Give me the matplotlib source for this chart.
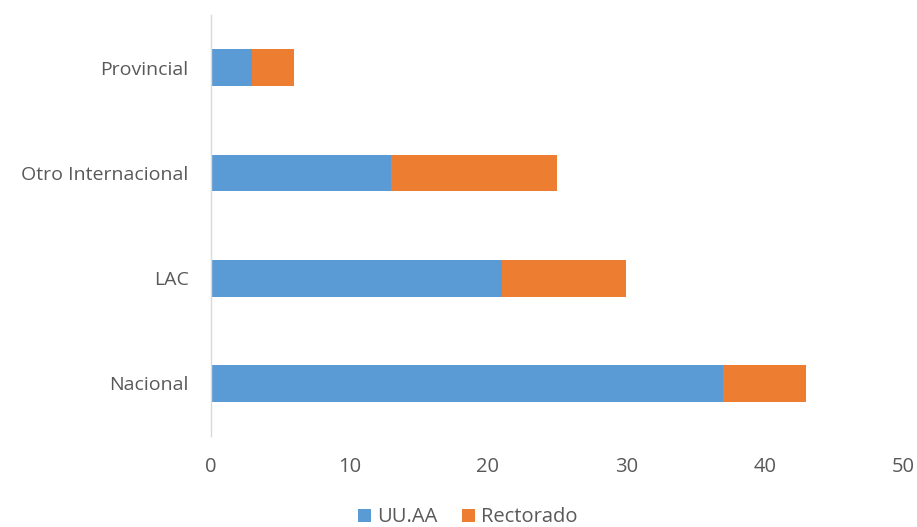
import matplotlib
matplotlib.use("Agg")
import matplotlib.pyplot as plt

categories = ["Nacional", "LAC", "Otro Internacional", "Provincial"]
uuaa = [37, 21, 13, 3]
rectorado = [6, 9, 12, 3]
xticks = [0, 10, 20, 30, 40, 50]

BLUE = "#5B9BD5"
ORANGE = "#ED7D31"
TEXT = "#595959"

plt.rcParams["font.family"] = ["Open Sans", "DejaVu Sans"]

fig = plt.figure(figsize=(9.17, 5.27), dpi=100)
ax = fig.add_axes([0.230, 0.173, 0.755, 0.798])

ypos = list(range(len(categories)))
ax.barh(ypos, uuaa, height=0.35, color=BLUE, label="UU.AA")
ax.barh(ypos, rectorado, left=uuaa, height=0.35, color=ORANGE, label="Rectorado")

ax.set_xlim(0, 50)
ax.set_ylim(-0.5, 3.5)
ax.set_xticks(xticks)
ax.set_yticks(ypos)
ax.set_yticklabels(categories)

for s in ["top", "right", "bottom"]:
    ax.spines[s].set_visible(False)
ax.spines["left"].set_color("#D9D9D9")
ax.spines["left"].set_linewidth(1)

ax.tick_params(axis="x", length=0, pad=15, labelsize=14.5, colors=TEXT)
ax.tick_params(axis="y", length=0, pad=16, labelsize=14, colors=TEXT)

leg = fig.legend(loc="lower center", bbox_to_anchor=(0.51, -0.035), ncol=2,
                 frameon=False, fontsize=14.5, handlelength=0.65, handleheight=0.65,
                 handletextpad=0.3, columnspacing=1.2)
for t in leg.get_texts():
    t.set_color(TEXT)

fig.savefig("out.png", dpi=100, facecolor="white")
